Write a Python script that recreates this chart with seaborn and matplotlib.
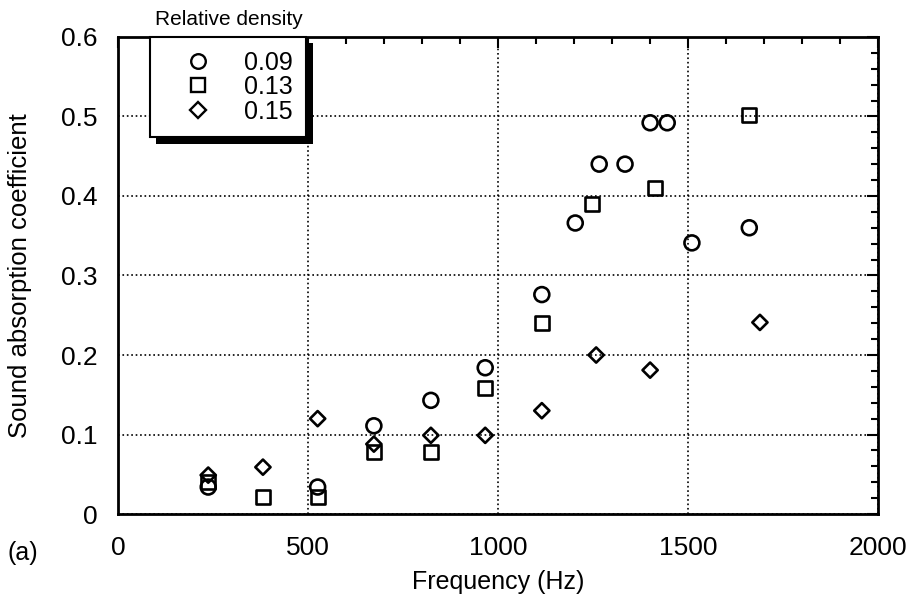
import numpy as np
import pandas as pd
import matplotlib
matplotlib.use("Agg")
import matplotlib.pyplot as plt
import seaborn as sns
from matplotlib.lines import Line2D
from matplotlib.patches import Rectangle

# relative density 0.09 (circles)
freq_009 = [237, 525, 673, 823, 966, 1115, 1203, 1266, 1334, 1400, 1445, 1510, 1661]
abs_009 = [0.034, 0.034, 0.111, 0.143, 0.184, 0.276, 0.366, 0.44, 0.44, 0.492, 0.492, 0.341, 0.36]
# relative density 0.13 (squares)
freq_013 = [237, 381, 525, 673, 823, 966, 1115, 1247, 1413, 1661]
abs_013 = [0.04, 0.021, 0.021, 0.078, 0.078, 0.158, 0.24, 0.39, 0.41, 0.502]
# relative density 0.15 (diamonds)
freq_015 = [237, 381, 525, 673, 823, 966, 1115, 1258, 1400, 1689]
abs_015 = [0.049, 0.059, 0.12, 0.088, 0.099, 0.099, 0.13, 0.2, 0.181, 0.241]

labels = ["0.09", "0.13", "0.15"]
x_ticks = [0, 500, 1000, 1500, 2000]
y_ticks = [0, 0.1, 0.2, 0.3, 0.4, 0.5, 0.6]
y_ticklabels = ["0", "0.1", "0.2", "0.3", "0.4", "0.5", "0.6"]

df = pd.concat([
    pd.DataFrame({"f": freq_009, "a": abs_009, "d": labels[0]}),
    pd.DataFrame({"f": freq_013, "a": abs_013, "d": labels[1]}),
    pd.DataFrame({"f": freq_015, "a": abs_015, "d": labels[2]}),
])

sns.set_style("white")
plt.rcParams['font.family'] = ['Liberation Sans', 'DejaVu Sans']
plt.rcParams['text.color'] = 'black'
plt.rcParams['axes.labelcolor'] = 'black'

fig = plt.figure(figsize=(9.09, 5.95), dpi=100)
ax = fig.add_axes([0.13, 0.136, 0.836, 0.802])

markers = {"0.09": "o", "0.13": "s", "0.15": "D"}
sizes = {"0.09": 115, "0.13": 100, "0.15": 60}
for lab in labels:
    sub = df[df["d"] == lab]
    sns.scatterplot(x=sub["f"], y=sub["a"], marker=markers[lab], s=sizes[lab],
                    facecolor="none", edgecolor="black", linewidth=1.9, ax=ax, zorder=3)

ax.set_xlim(0, 2000)
ax.set_ylim(0, 0.6)
ax.set_xticks(x_ticks)
ax.set_yticks(y_ticks)
ax.set_yticklabels(y_ticklabels)
ax.set_xticks(np.arange(0, 2001, 100), minor=True)
ax.set_yticks(np.arange(0, 0.601, 0.02), minor=True)
ax.tick_params(which="both", direction="in", top=True, right=True, colors="black",
               labelsize=19, width=1.5)
ax.tick_params(which="major", length=8)
ax.tick_params(axis="x", which="major", pad=16)
ax.tick_params(axis="y", which="major", pad=15)
ax.tick_params(which="minor", length=5)
ax.grid(True, which="major", linestyle=":", color="black", linewidth=1.2)
for sp in ax.spines.values():
    sp.set_linewidth(2)
    sp.set_color("black")

ax.set_xlabel("Frequency (Hz)", fontsize=18, labelpad=7)
ax.set_ylabel("Sound absorption coefficient", fontsize=18.5, labelpad=21)

# legend
handles = [Line2D([], [], linestyle="none", marker=markers[l], markersize=ms,
                  markerfacecolor="none", markeredgecolor="black", markeredgewidth=1.7)
           for l, ms in zip(labels, [10.5, 10, 8])]
leg = ax.legend(handles, labels, loc="upper left", bbox_to_anchor=(0.042, 1.0),
                fontsize=18, frameon=True, fancybox=False, handletextpad=0.5,
                borderpad=0.55, labelspacing=0.02, handlelength=2.7, borderaxespad=0,
                framealpha=1, facecolor="white")
leg.get_frame().set_edgecolor("black")
leg.get_frame().set_linewidth(1.5)
leg.set_zorder(5)

fig.canvas.draw()
bb = leg.get_window_extent().transformed(fig.transFigure.inverted())
shadow = Rectangle((bb.x0 + 0.007, bb.y0 - 0.011), bb.width, bb.height,
                   transform=fig.transFigure, facecolor="black", edgecolor="none", zorder=4)
fig.patches.append(shadow)
leg.remove()
fig.legends.append(leg)
leg.set_figure(fig)

fig.text(0.252, 0.968, "Relative density", ha="center", va="center", fontsize=15)
fig.text(0.008, 0.07, "(a)", fontsize=18, ha="left", va="center")

fig.savefig("out.png", dpi=100)
